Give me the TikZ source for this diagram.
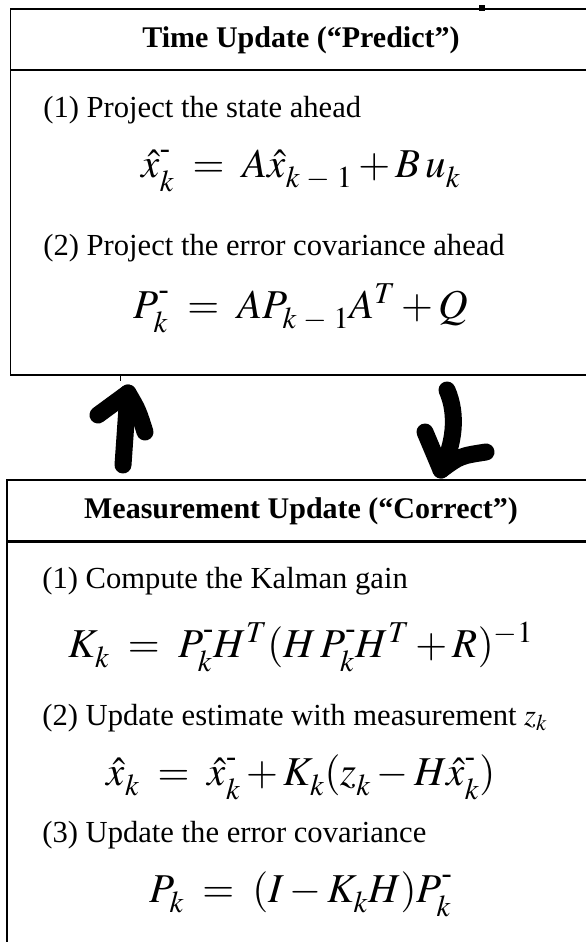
\documentclass[tikz,border=0pt]{standalone}
\usepackage{amsmath}
\usepackage{mathptmx}
\usepackage{fontspec}
\setmainfont{Liberation Serif}
\usetikzlibrary{positioning}
\tikzset{every picture/.style={line width=0.75pt}}
\newcommand{\hx}{\hat{x}}
\newcommand{\mn}{^{\text{\raisebox{4pt}{-}}}}
\newcommand{\dn}[1]{_{\lower4pt\hbox{$\scriptstyle #1$}}}

\begin{document}
\begin{tikzpicture}[x=1pt,y=-1pt,
    boxline/.style={line width=2pt},
    headline/.style={font=\bfseries\fontsize{30}{36}\selectfont, anchor=base, inner sep=0pt},
    stepline/.style={font=\fontsize{30.6}{36}\selectfont, anchor=base west, inner sep=0pt},
    eqline/.style={font=\fontsize{41}{48}\selectfont, anchor=base, inner sep=0pt},
    penarrow/.style={line width=17pt, line cap=round, line join=round}]

    \useasboundingbox (0,0) rectangle (586,942);
    \clip (0,0) rectangle (586,942);

    % time update box
    \draw[line width=1.5pt] (10.5,9) rectangle (620,375);
    \draw[line width=2.5pt] (10.5,70) -- (620,70);
    \fill (479,5.5) rectangle (485,11.5);
    \draw[line width=0.6pt] (120,375) -- (120,381);

    \node[headline] (tuhead) at (301,48) {Time Update (``Predict'')};
    \node[stepline] (tustep1) at (43,117) {(1) Project the state ahead};
    \node[eqline] (tueq1) at (301,177) {$\hx\mn\dn{k} \;=\; A\hx\dn{k\;-\;1} + B\,u\dn{k}$};
    \node[stepline] (tustep2) at (43,255) {(2) Project the error covariance ahead};
    \node[eqline] (tueq2) at (301,318) {$P\mn\dn{k} \;=\; AP\dn{k\;-\;1}A^T + Q$};

    % measurement update box
    \draw[boxline] (7.3,480) rectangle (620,980);
    \draw[line width=2.5pt] (7.3,541.5) -- (620,541.5);

    \node[headline] (muhead) at (301,518) {Measurement Update (``Correct'')};
    \node[stepline] (mustep1) at (42,588) {(1) Compute the Kalman gain};
    \node[eqline] (mueq1) at (301,657) {$K\dn{k} \;=\; P\mn\dn{k}H^T(H\,P\mn\dn{k}H^T + R)^{-1}$};
    \node[stepline] (mustep2) at (42,725) {(2) Update estimate with measurement $z_k$};
    \node[eqline] (mueq2) at (301,785) {$\hx\dn{k} \;=\; \hx\mn\dn{k} + K\dn{k}(z\dn{k} - H\hx\mn\dn{k})$};
    \node[stepline] (mustep3) at (42,842) {(3) Update the error covariance};
    \node[eqline] (mueq3) at (301,902) {$P\dn{k} \;=\; (I - K\dn{k}H)P\mn\dn{k}$};

    % hand drawn arrows between the boxes
    \coordinate (upbot) at (123,465);
    \coordinate (uptip) at (128,393);
    \coordinate (upleft) at (98,415);
    \coordinate (upright) at (145,432);
    \draw[penarrow] (upbot) -- (uptip);
    \draw[penarrow] (upleft) -- (uptip) .. controls (138,410) .. (upright);

    \coordinate (dntop) at (447,390);
    \coordinate (dntip) at (441,470);
    \coordinate (dnleft) at (425,432);
    \coordinate (dnright) at (486,452);
    \draw[penarrow] (dntop) .. controls (458,415) and (454,445) .. (dntip);
    \draw[penarrow] (dnleft) -- (dntip) .. controls (460,456) .. (dnright);
\end{tikzpicture}
\end{document}
